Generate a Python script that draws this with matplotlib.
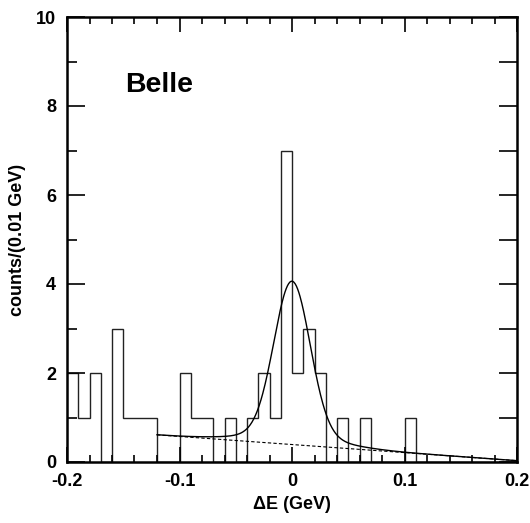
import numpy as np
import matplotlib
matplotlib.use('Agg')
import matplotlib.pyplot as plt
from matplotlib.ticker import MultipleLocator

plt.rcParams.update({
    'font.family': ['Liberation Sans', 'DejaVu Sans'],
    'font.weight': 'bold',
    'mathtext.default': 'regular',
})

# ─── Data ────────────────────────────────────────────────────────────────────
bin_edges = np.round(np.arange(-0.20, 0.2001, 0.01), 3)
counts = [2, 1, 2, 0, 3, 1, 1, 1, 0, 0,
          2, 1, 1, 0, 1, 0, 1, 2, 1, 7,
          2, 3, 2, 0, 1, 0, 1, 0, 0, 0,
          1, 0, 0, 0, 0, 0, 0, 0, 0, 0]

# fit: linear background + gaussian signal
fit_range = (-0.12, 0.20)
bkg_ends = [0.61, 0.03]          # background at the two ends of the fit range
sig_amp = [3.45, 0.22]           # core / wide gaussian amplitudes
sig_width = [0.0160, 0.040]      # core / wide gaussian widths (GeV)

# ─── Fit curves ──────────────────────────────────────────────────────────────
xf = np.linspace(fit_range[0], fit_range[1], 600)
bkg = np.interp(xf, fit_range, bkg_ends)
sig = sum(a * np.exp(-0.5 * (xf / s) ** 2) for a, s in zip(sig_amp, sig_width))

# ─── Plot ────────────────────────────────────────────────────────────────────
fig = plt.figure(figsize=(5.30, 5.23), dpi=100)
ax = fig.add_axes([67 / 530, 1 - 462 / 523, 450 / 530, 445 / 523])

ax.stairs(counts, bin_edges, color='#222222', lw=1.0, baseline=None)
ax.plot(xf, bkg + sig, color='black', lw=1.0)
ax.plot(xf, bkg, color='black', lw=0.8, ls=(0, (3, 2)))

ax.set_xlim(-0.2, 0.2)
ax.set_ylim(0, 10)

for sp in ax.spines.values():
    sp.set_linewidth(1.8)

ax.xaxis.set_major_locator(MultipleLocator(0.1))
ax.xaxis.set_minor_locator(MultipleLocator(0.02))
ax.yaxis.set_major_locator(MultipleLocator(2))
ax.yaxis.set_minor_locator(MultipleLocator(1))
ax.tick_params(axis='both', which='both', direction='in', width=1.2)
ax.tick_params(axis='x', which='major', length=11, top=True, pad=8, labelsize=13)
ax.tick_params(axis='x', which='minor', length=5, top=True)
ax.tick_params(axis='y', which='major', length=13, pad=8, labelsize=13)
ax.tick_params(axis='y', which='minor', length=7)
ax.set_xticks([-0.2, -0.1, 0, 0.1, 0.2])
ax.set_xticklabels(['-0.2', '-0.1', '0', '0.1', '0.2'])
ax.set_yticks([0, 2, 4, 6, 8, 10])
ax.set_yticklabels(['0', '2', '4', '6', '8', '10'])

# right-hand ticks: one per unit, all the same length
axr = ax.twinx()
axr.set_ylim(ax.get_ylim())
axr.yaxis.set_major_locator(MultipleLocator(1))
axr.tick_params(axis='y', direction='in', length=13, width=1.2, labelright=False)
for sp in axr.spines.values():
    sp.set_visible(False)

ax.set_xlabel('ΔE (GeV)', fontsize=13, fontweight='bold', labelpad=4)
ax.set_ylabel('counts/(0.01 GeV)', fontsize=13, fontweight='bold', labelpad=7)

ax.text(-0.1485, 8.31, 'Belle', fontsize=20.5, fontweight='bold', ha='left', va='baseline')

fig.savefig('out.png', dpi=100, facecolor='white')
plt.close(fig)
